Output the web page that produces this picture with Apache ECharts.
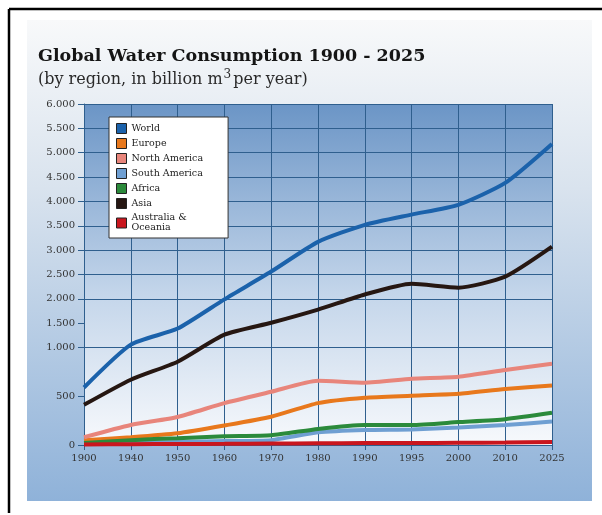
<!DOCTYPE html>
<html>
<head>
<meta charset="utf-8">
<script src="https://cdn.jsdelivr.net/npm/echarts@6/dist/echarts.min.js"></script>
<style>
  html, body { margin: 0; padding: 0; background: #fff; }
  #chart { width: 602px; height: 515px; }
</style>
</head>
<body>
<div id="chart"></div>
<script>
const years = ['1900', '1940', '1950', '1960', '1970', '1980', '1990', '1995', '2000', '2010', '2025']
const world = [590, 1060, 1390, 1990, 2560, 3170, 3520, 3730, 3930, 4380, 5180]
const europe = [50, 80, 120, 200, 290, 430, 485, 505, 525, 575, 610]
const northAmerica = [80, 206, 288, 430, 546, 660, 640, 680, 700, 770, 835]
const southAmerica = [10, 20, 30, 40, 50, 130, 155, 160, 180, 205, 240]
const africa = [20, 50, 70, 90, 100, 165, 205, 205, 235, 265, 330]
const asia = [412, 670, 855, 1265, 1510, 1780, 2090, 2310, 2230, 2455, 3070]
const oceania = [5, 8, 10, 12, 15, 18, 20, 20, 22, 25, 30]
// labelled ticks on the value axis (0-1000 is drawn at double scale)
const yTicks = [0, 500, 1000, 1500, 2000, 2500, 3000, 3500, 4000, 4500, 5000, 5500, 6000]

// map a real value onto the stretched axis
function stretch(v) {
  return v <= 1000 ? v * 2 : v + 1000
}
function unstretch(t) {
  return t <= 2000 ? t / 2 : t - 1000
}
function fmt(v) {
  if (v < 1000) return String(v)
  const s = String(v)
  return s.slice(0, s.length - 3) + '.' + s.slice(s.length - 3)
}

const serif = '"DejaVu Serif", "Liberation Serif", serif'
const chart = echarts.init(document.getElementById('chart'))

const seriesDefs = [
  { name: 'World', data: world, color: '#1b62ab' },
  { name: 'Europe', data: europe, color: '#e8781c' },
  { name: 'North America', data: northAmerica, color: '#e8857b' },
  { name: 'South America', data: southAmerica, color: '#6f9fd2' },
  { name: 'Africa', data: africa, color: '#2b8a3b' },
  { name: 'Asia', data: asia, color: '#261712' },
  { name: 'Australia &\nOceania', data: oceania, color: '#c9161e' },
]

// grid line colours: skip the unlabelled 250 and 750 lines
const gridColors = []
for (let t = 0; t <= 7000; t += 500) {
  gridColors.push(yTicks.indexOf(unstretch(t)) >= 0 ? '#2f5f8e' : 'rgba(0,0,0,0)')
}

const option = {
  animation: false,
  title: {
    text: 'Global Water Consumption 1900 - 2025',
    subtext: '(by region, in billion m{sup|3}per year)',
    left: 33,
    top: 42,
    itemGap: 4,
    textStyle: { fontFamily: serif, fontWeight: 'bold', fontSize: 17.5, color: '#151515' },
    subtextStyle: {
      fontFamily: serif, fontSize: 16, color: '#2a2a2a',
      rich: { sup: { fontFamily: serif, fontSize: 12, color: '#2a2a2a', verticalAlign: 'top', padding: [0, 2, 9, 1] } },
    },
  },
  graphic: [
    {
      type: 'rect', z: -10,
      shape: { x: 27, y: 20, width: 565, height: 481 },
      style: {
        fill: new echarts.graphic.LinearGradient(0, 0, 0, 1, [
          { offset: 0, color: '#f8f9fa' },
          { offset: 0.35, color: '#d9e3ee' },
          { offset: 1, color: '#8fb2d9' },
        ]),
      },
    },
    { type: 'line', z: 10, shape: { x1: 9, y1: 9, x2: 602, y2: 9 }, style: { stroke: '#000', lineWidth: 2.5 } },
    { type: 'line', z: 10, shape: { x1: 9, y1: 9, x2: 9, y2: 513 }, style: { stroke: '#000', lineWidth: 2.5 } },
  ],
  legend: {
    orient: 'vertical',
    left: 109,
    top: 117,
    padding: [6, 25, 5, 7],
    itemWidth: 10,
    itemHeight: 10,
    itemGap: 4,
    icon: 'rect',
    backgroundColor: '#fff',
    borderColor: '#333',
    borderWidth: 1,
    itemStyle: { borderColor: '#222', borderWidth: 1 },
    textStyle: { fontFamily: serif, fontSize: 9.5, color: '#222', lineHeight: 10 },
    data: seriesDefs.map(function (s) { return s.name }),
  },
  grid: {
    left: 84,
    right: 50,
    top: 104,
    bottom: 70,
    show: true,
    borderWidth: 0,
    backgroundColor: new echarts.graphic.LinearGradient(0, 0, 0, 1, [
      { offset: 0, color: '#6b95c6' },
      { offset: 0.55, color: '#c3d5ea' },
      { offset: 1, color: '#f7f9fc' },
    ]),
  },
  xAxis: {
    type: 'category',
    data: years,
    boundaryGap: false,
    axisLine: { lineStyle: { color: '#2f5f8e', width: 1 } },
    axisTick: { show: true, length: 5, lineStyle: { color: '#2f5f8e' } },
    axisLabel: { fontFamily: serif, fontSize: 10, color: '#333', margin: 8 },
    splitLine: { show: true, lineStyle: { color: '#2f5f8e', width: 1 } },
  },
  yAxis: {
    type: 'value',
    min: 0,
    max: 7000,
    interval: 500,
    axisLine: { show: true, lineStyle: { color: '#2f5f8e', width: 1 } },
    axisTick: {
      show: true, length: 6, lineStyle: { color: '#2f5f8e' },
      customValues: yTicks.map(stretch),
    },
    axisLabel: {
      fontFamily: serif, fontSize: 10, color: '#333', margin: 9,
      customValues: yTicks.map(stretch),
      formatter: function (t) { return fmt(unstretch(t)) },
    },
    splitLine: { show: true, lineStyle: { color: gridColors, width: 1 } },
  },
  series: seriesDefs.map(function (s) {
    return {
      name: s.name,
      type: 'line',
      data: s.data.map(stretch),
      symbol: 'none',
      smooth: 0.2,
      itemStyle: { color: s.color },
      lineStyle: { color: s.color, width: 4 },
    }
  }),
}

chart.setOption(option)
</script>
</body>
</html>
